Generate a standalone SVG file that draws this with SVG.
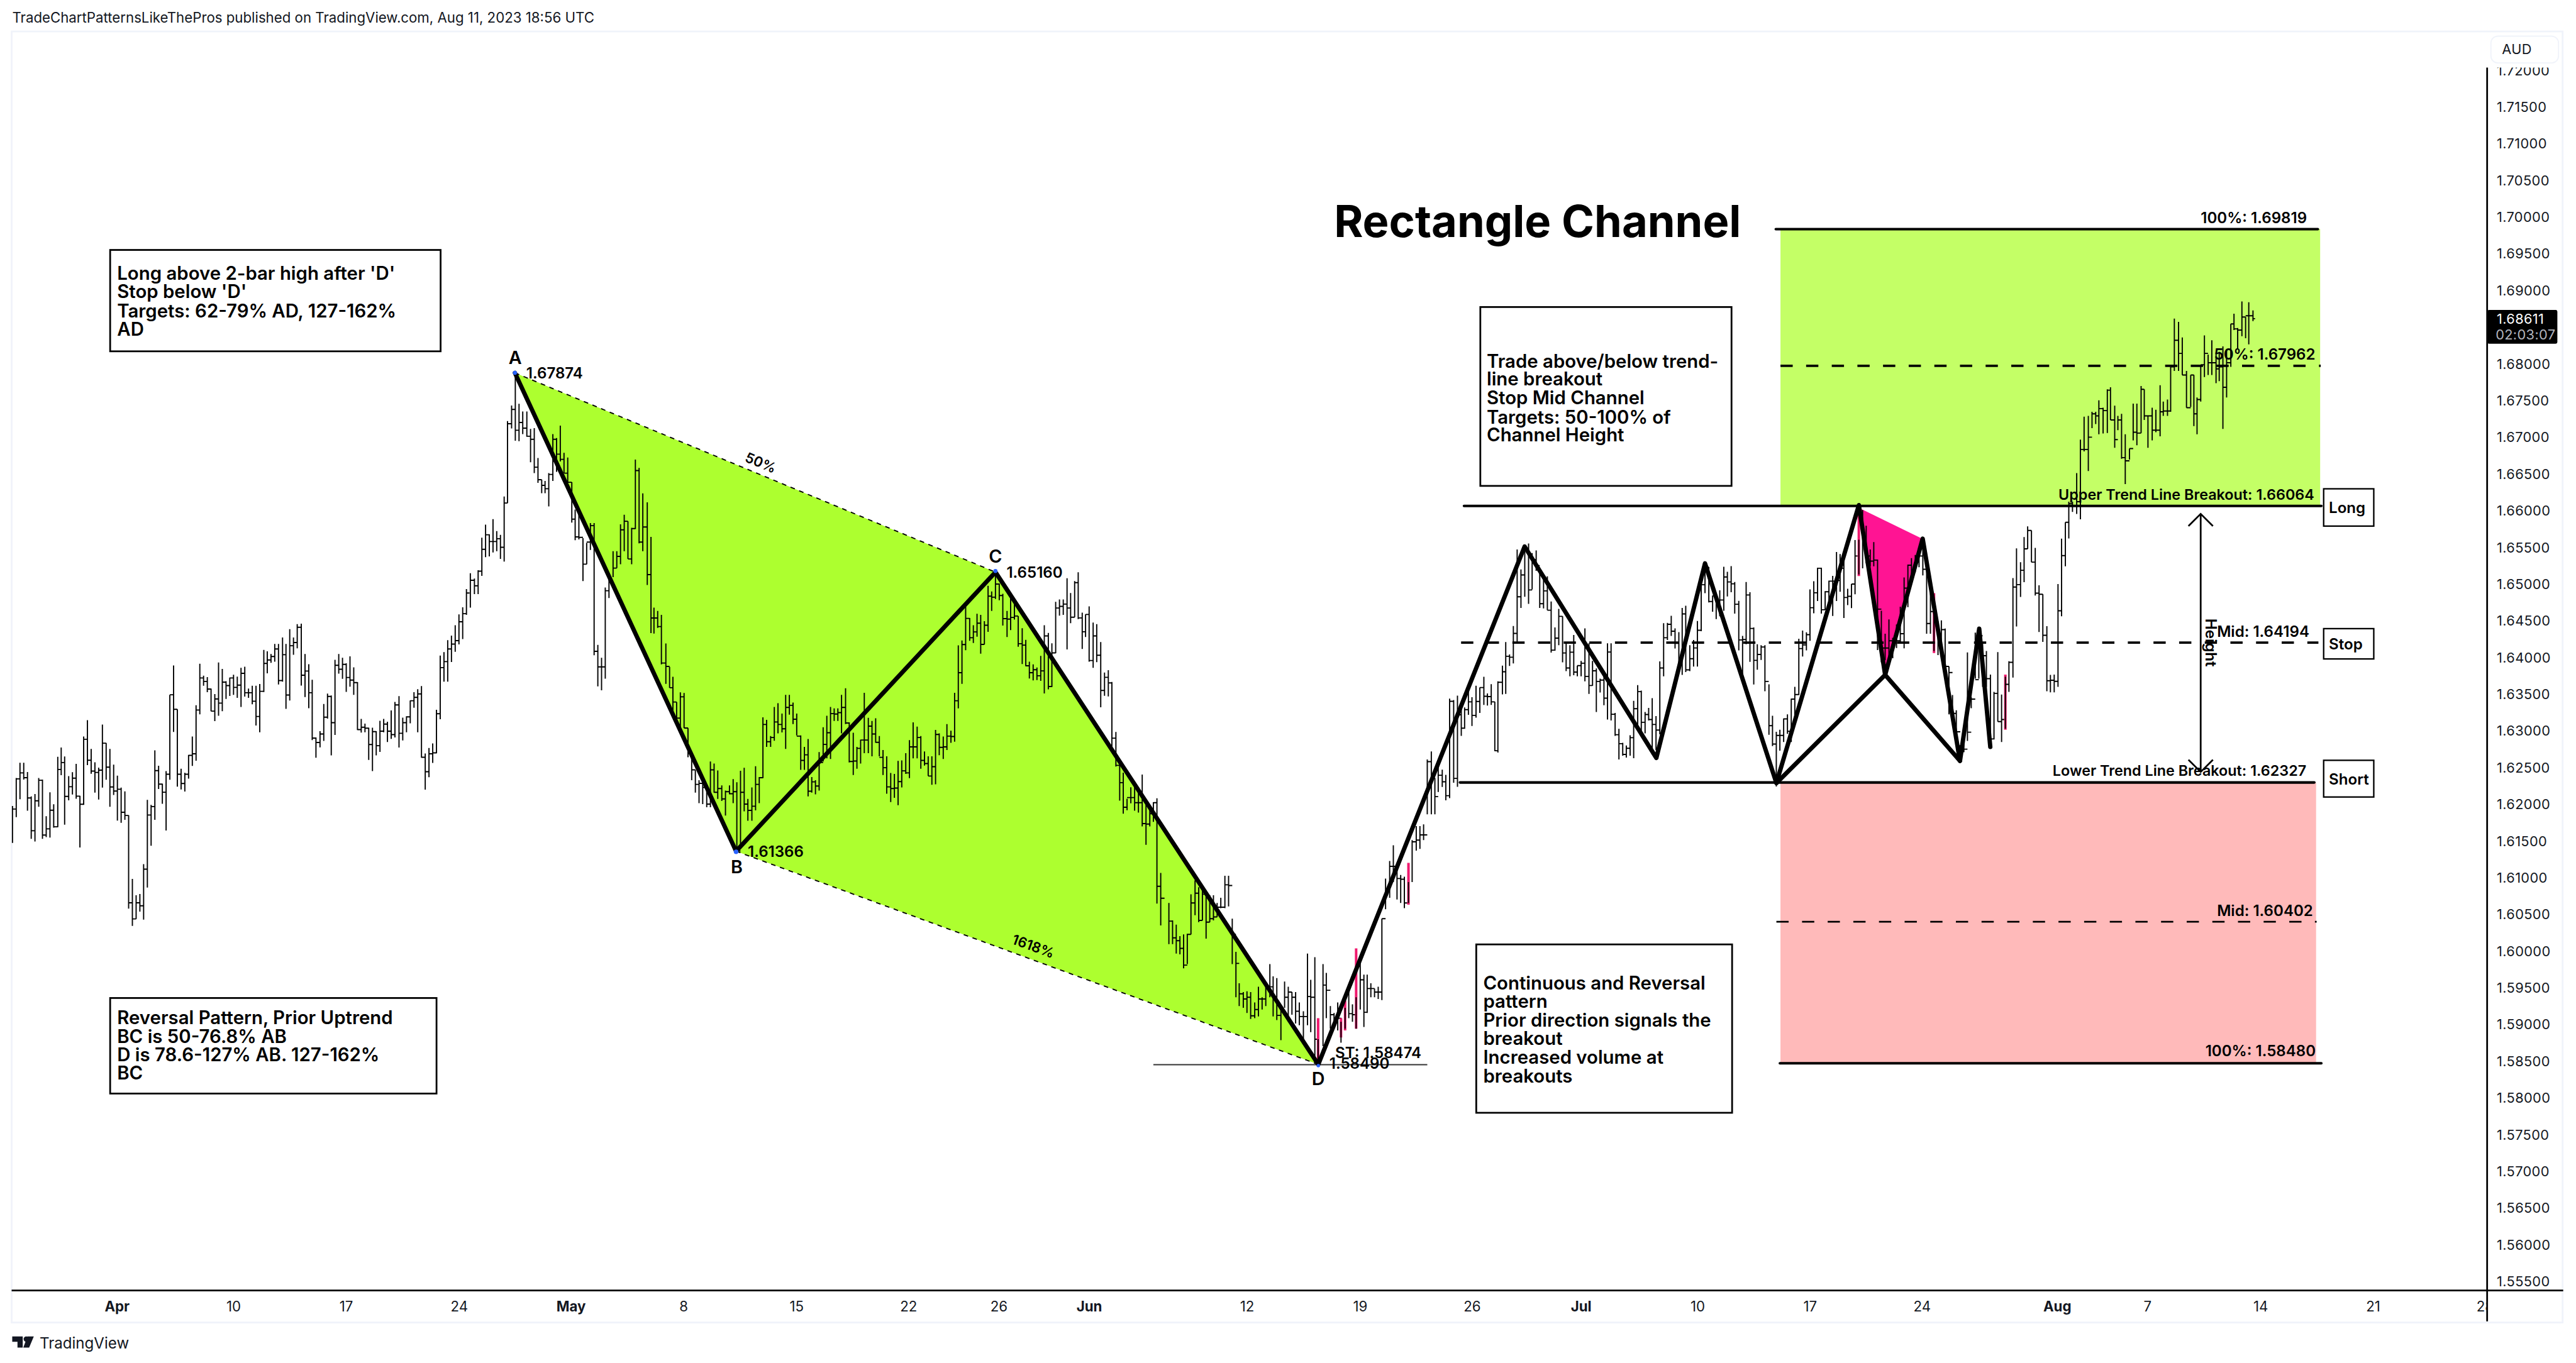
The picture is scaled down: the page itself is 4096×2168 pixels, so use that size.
<svg xmlns="http://www.w3.org/2000/svg" width="4096" height="2168" viewBox="0 0 4096 2168">
<style>
text{font-family:"Inter","Liberation Sans",sans-serif;fill:#000}
.hdr{font-size:24px;fill:#131722}
.px{font-size:23.5px;fill:#131722;letter-spacing:.4px}
.tm{font-size:24px;fill:#131722;text-anchor:middle}
.tb{font-weight:700}
.note{font-size:31.7px;font-weight:600}
.lbl{font-size:26px;font-weight:600}
.tr{font-size:25.2px}
.pt{font-size:31px;font-weight:600;text-anchor:middle}
.bar{fill:none;stroke:#000;stroke-width:1.9;vector-effect:non-scaling-stroke}
.pnk{fill:none;stroke:#f0196e;stroke-width:4;vector-effect:non-scaling-stroke}
.thick{fill:none;stroke:#000;stroke-width:7.5;stroke-linejoin:round;stroke-linecap:round}
.lvl{fill:none;stroke:#000;stroke-width:4.5;stroke-linecap:round}
.dash{fill:none;stroke:#000;stroke-width:4;stroke-dasharray:21 23}
.thin{fill:none;stroke:#000;stroke-width:2;stroke-dasharray:8 8}
.box{fill:#fff;stroke:#000;stroke-width:3}
</style>
<defs>
<clipPath id="pxclip"><rect x="4270" y="116" width="125" height="2098"/></clipPath>
<clipPath id="tmclip"><rect x="20" y="2217" width="4248" height="52"/></clipPath>
</defs>
<rect width="4096" height="2168" fill="#fff"/>
<g transform="scale(0.92670)">
<g id="frame">
<rect x="20" y="54" width="4377" height="2216" fill="none" stroke="#f0f3fa" stroke-width="3"/>
<text class="hdr" x="21" y="39">TradeChartPatternsLikeThePros published on TradingView.com, Aug 11, 2023 18:56 UTC</text>
<path d="M4267.5 116V2268M20 2215H4398" fill="none" stroke="#000" stroke-width="3"/>
<rect x="4274" y="62" width="116" height="46" rx="12" fill="#fff" stroke="#f0f3fa" stroke-width="2"/>
<text class="px" x="4293" y="93">AUD</text>
</g>
<g id="price-axis" clip-path="url(#pxclip)">
<text class="px" x="4284" y="129">1.72000</text><text class="px" x="4284" y="192">1.71500</text><text class="px" x="4284" y="255">1.71000</text><text class="px" x="4284" y="318">1.70500</text><text class="px" x="4284" y="381">1.70000</text><text class="px" x="4284" y="444">1.69500</text><text class="px" x="4284" y="507">1.69000</text><text class="px" x="4284" y="633">1.68000</text><text class="px" x="4284" y="696">1.67500</text><text class="px" x="4284" y="759">1.67000</text><text class="px" x="4284" y="822">1.66500</text><text class="px" x="4284" y="885">1.66000</text><text class="px" x="4284" y="948">1.65500</text><text class="px" x="4284" y="1011">1.65000</text><text class="px" x="4284" y="1074">1.64500</text><text class="px" x="4284" y="1137">1.64000</text><text class="px" x="4284" y="1200">1.63500</text><text class="px" x="4284" y="1263">1.63000</text><text class="px" x="4284" y="1326">1.62500</text><text class="px" x="4284" y="1389">1.62000</text><text class="px" x="4284" y="1452">1.61500</text><text class="px" x="4284" y="1515">1.61000</text><text class="px" x="4284" y="1578">1.60500</text><text class="px" x="4284" y="1641">1.60000</text><text class="px" x="4284" y="1704">1.59500</text><text class="px" x="4284" y="1767">1.59000</text><text class="px" x="4284" y="1830">1.58500</text><text class="px" x="4284" y="1893">1.58000</text><text class="px" x="4284" y="1956">1.57500</text><text class="px" x="4284" y="2019">1.57000</text><text class="px" x="4284" y="2082">1.56500</text><text class="px" x="4284" y="2145">1.56000</text><text class="px" x="4284" y="2208">1.55500</text>
</g>
<g id="last-price">
<rect x="4268" y="532" width="120" height="58" rx="3" fill="#000"/>
<text class="px" x="4284" y="556" style="fill:#fff">1.68611</text>
<text class="px" x="4282" y="583" style="fill:#b2b5be">02:03:07</text>
</g>
<g id="time-axis" clip-path="url(#tmclip)">
<text class="tm tb" x="201" y="2251">Apr</text><text class="tm" x="401" y="2251">10</text><text class="tm" x="594" y="2251">17</text><text class="tm" x="788" y="2251">24</text><text class="tm tb" x="980" y="2251">May</text><text class="tm" x="1173" y="2251">8</text><text class="tm" x="1367" y="2251">15</text><text class="tm" x="1559" y="2251">22</text><text class="tm" x="1714" y="2251">26</text><text class="tm tb" x="1869" y="2251">Jun</text><text class="tm" x="2140" y="2251">12</text><text class="tm" x="2334" y="2251">19</text><text class="tm" x="2526" y="2251">26</text><text class="tm tb" x="2713" y="2251">Jul</text><text class="tm" x="2913" y="2251">10</text><text class="tm" x="3106" y="2251">17</text><text class="tm" x="3298" y="2251">24</text><text class="tm tb" x="3530" y="2251">Aug</text><text class="tm" x="3685" y="2251">7</text><text class="tm" x="3879" y="2251">14</text><text class="tm" x="4072" y="2251">21</text><text class="tm" x="4264" y="2251">28</text>
</g>
<g id="brand">
<path d="M21 2294h18v19h-9v-10h-9zM47 2294h11l-8 19h-10z" fill="#131722"/><circle cx="45" cy="2298.5" r="4.5" fill="#131722"/>
<text x="68" y="2315" style="font-size:26px;fill:#131722">TradingView</text>
</g>
<g id="zones">
<polygon points="883.5,640 1708,982 2262,1827 1263,1461" fill="#adff2f"/>
<rect x="3055" y="393" width="926" height="475.5" fill="#c4ff66"/>
<rect x="3055" y="1343" width="919" height="482" fill="#ffbaba"/>
<polygon points="3190,872 3299,925 3234.6,1158.5" fill="#ff1493"/>
</g>
<g id="price-bars">
<g transform="matrix(.5357 0 0 .3954 0 1000)"><path class="bar" d="M40 970V1130M40 983h12M52 848V1018M52 852h12M64 782V940M64 826h12M76 782V855M76 847h12M88 822V990M88 935h12M100 928V1112M100 1077h12M112 918V1124M112 947h12M124 848V973M124 858h12M136 855V1112M136 1096h12M148 1014V1105M148 1069h12M160 910V1107M160 988h12M172 962V1064M172 1060h13M185 756V1062M185 811h11M196 716V836M196 781h11M207 755V1051M207 928h13M220 840V945M220 886h12M232 823V920M232 849h12M244 787V938M244 927h12M256 925V1150M256 962h12M268 668V965M268 680h12M280 597V792M280 771h12M292 722V830M292 818h12M304 780V912M304 824h12M316 803V942M316 814h12M328 616V890M328 697h12M340 696V856M340 801h12M352 722V973M352 887h12M364 790V922M364 905h12M376 838V1033M376 897h12M388 890V1043M388 997h12M400 906V1030M400 1011h12M412 1010V1415M412 1390h12M424 1286V1490M424 1460h12M436 1357V1460M436 1390h12M448 1352V1428M448 1403h12M460 1222V1463M460 1244h12M472 943V1324M472 1009h12M484 965V1142M484 972h12M496 728V1030M496 816h12M508 795V896M508 875h12M520 873V960M520 910h12M532 818V1076M532 832h12M544 487V856M544 487h12M556 360V648M556 550h12M568 550V886M568 832h12M580 808V898M580 872h12M592 826V907M592 832h12M604 748V851M604 750h12M616 668V796M616 743h12M628 532V773M628 553h12M640 352V572M640 414h12M652 404V448M652 429h12M664 410V476M664 462h12M676 460V558M676 558h12M688 484V601M688 505h12M700 347V578M700 523h12M712 375V558M712 432h12M724 428V505M724 447h12M736 412V492M736 414h12M748 400V487M748 455h12M760 408V500M760 445h12M772 370V540M772 394h12M784 365V495M784 478h12M796 460V500M796 478h12M808 448V528M808 515h12M820 448V620M820 581h12M832 440V650M832 472h13M845 292V475M845 351h11M856 298V394M856 336h12M868 310V348M868 321h12M880 266V343M880 288h12M892 266V442M892 425h13M905 238V430M905 313h11M916 266V548M916 488h12M928 202V512M928 274h12M940 238V313M940 260h12M952 180V285M952 194h13M965 178V447M965 402h12M977 310V497M977 384h12M989 354V545M989 478h11M1000 422V684M1000 675h12M1012 672V760M1012 694h13M1025 645V715M1025 657h12M1037 527V687M1037 584h12M1049 482V590M1049 494h12M1061 490V750M1061 608h12M1073 335V661M1073 359h12M1085 310V395M1085 376h12M1097 326V418M1097 355h12M1109 350V474M1109 412h12M1121 320V452M1121 423h12M1133 368V487M1133 434h12M1145 432V640M1145 638h12M1157 592V651M1157 628h12M1169 612V650M1169 632h12M1181 630V770M1181 703h12M1193 630V818M1193 647h12M1205 645V750M1205 708h12M1217 600V735M1217 645h12M1229 592V650M1229 614h12M1241 604V692M1241 645h12M1253 555V678M1253 660h12M1265 518V672M1265 531h13M1278 493V716M1278 654h12M1290 586V685M1290 608h12M1302 580V650M1302 583h12M1314 512V611M1314 513h12M1326 476V543M1326 498h12M1338 463V650M1338 483h12M1350 449V760M1350 758h12M1362 742V899M1362 821h12M1374 718V845M1374 743h12M1386 698V783M1386 739h12M1398 552V741M1398 569h12M1410 317V593M1410 369h12M1422 302V430M1422 343h12M1434 250V430M1434 288h12M1446 230V345M1446 267h12M1458 185V300M1458 252h12M1470 138V268M1470 170h12M1482 107V245M1482 135h12M1494 28V140M1494 45h10"/></g>
<g transform="matrix(.6378 0 0 .4464 800 580)"><path class="bar" d="M11 905V1037M11 932h11M22 925V985M22 953h10M32 893V985M32 897h10M42 768V915M42 813h10M52 718V843M52 757h10M62 755V840M62 783h10M72 697V825M72 783h10M82 743V820M82 772h10M92 757V850M92 805h10M102 610V860M102 635h9M111 320V635M111 330h11M122 260V348M122 275h10M132 135V395M132 355h10M142 253V397M142 325h10M152 283V370M152 347h11M163 283V380M163 378h10M173 350V478M173 390h10M183 347V520M183 497h10M193 462V557M193 545h10M203 545V597M203 567h9M212 550V597M212 580h10M222 520V648M222 525h11M233 370V550M233 390h10M243 385V515M243 447h10M253 337V475M253 467h10M263 442V520M263 520h10M273 460V556M273 555h11M284 555V710M284 697h9M293 660V778M293 765h10M303 670V775M303 767h11M314 770V935M314 870h10M324 788V870M324 785h10M334 712V815M334 722h10M344 712V1220M344 1205h10M354 1180V1340M354 1265h10M364 1230V1355M364 1265h10M374 960V1310M374 972h10M384 920V1000M384 935h11M395 820V920M395 885h10M405 820V885M405 840h10M415 717V870M415 738h10M425 680V820M425 705h10M435 705V850M435 850h10M445 730V870M445 733h10M455 468V735M455 510h10M465 500V790M465 785h10M475 598V820M475 727h12M487 632V950M487 910h10M497 765V1135M497 1077h8M505 1037V1137M505 1077h10M515 1050V1115M515 1110h10M525 1065V1255M525 1250h12M537 1175V1330M537 1263h10M547 1265V1345M547 1345h9M556 1303V1440M556 1400h10M566 1400V1470M566 1462h10M576 1363V1520M576 1380h10M586 1365V1500M586 1500h11"/></g>
<g transform="matrix(.574 0 0 .357 1200 1000)"><path class="bar" d="M-34 700V840M-34 810h11M-23 820V950M-23 900h11M-12 900V1010M-12 970h11M-1 950V1060M-1 965h11M10 950V1065M10 985h12M22 985V1080M22 1065h11M33 860V1080M33 900h11M44 870V1010M44 1008h11M55 903V1040M55 990h12M67 975V1050M67 1040h11M78 1000V1120M78 1005h12M90 975V1018M90 1015h11M101 945V1060M101 1005h11M112 960V1290M112 1290h11M123 905V1280M123 1008h11M134 890V1100M134 1065h11M145 1040V1145M145 1095h12M157 985V1145M157 1075h11M168 883V1095M168 970h11M179 935V1060M179 938h11M190 648V940M190 682h11M201 660V790M201 765h12M213 738V790M213 745h11M224 598V760M224 670h11M235 580V725M235 682h12M247 630V720M247 703h11M258 540V800M258 600h11M269 540V635M269 590h11M280 577V680M280 657h11M291 630V735M291 738h12M303 735V900M303 855h11M314 790V900M314 828h11M325 752V1028M325 1003h11M336 935V1010M336 958h11M347 950V1018M347 978h11M358 815V1000M358 865h12M370 695V860M370 778h11M381 640V845M381 722h11M392 598V848M392 630h11M403 605V665M403 632h11M414 605V665M414 625h11M425 540V725M425 600h12M437 508V680M437 675h11M448 672V865M448 860h12M460 722V925M460 858h11M471 790V895M471 797h11M482 755V870M482 757h11M493 530V820M493 757h12M505 650V820M505 690h11M516 665V835M516 728h11M527 652V770M527 768h11M538 738V835M538 840h11M549 805V925M549 890h11M560 835V1015M560 982h12M572 915V1055M572 990h11M583 920V1035M583 988h11M594 857V1070M594 957h11M605 855V985M605 905h12M617 820V920M617 915h11M628 757V940M628 790h11M639 672V845M639 790h12M651 692V845M651 745h11M662 738V895M662 855h11M673 812V880M673 870h11M684 835V930M684 930h11M695 835V972M695 885h11M706 708V970M706 730h11M717 725V830M717 792h12M729 740V848M729 790h11M740 680V805M740 738h12M752 712V770M752 740h11M763 530V765M763 568h11M774 302V605M774 433h11M785 278V487M785 298h11M796 115V325M796 172h12M808 170V280M808 265h11M819 205V290M819 237h11M830 150V260M830 195h11M841 155V342M841 297h11M852 185V297M852 205h11M863 15V237M863 65h11"/></g>
<g transform="matrix(.3827 0 0 .3954 1700 940)"><path class="bar" d="M4 190V275M4 215h17M21 110V223M21 158h17M38 155V228M38 208h16M54 200V338M54 308h19M73 275V388M73 310h16M89 215V358M89 303h17M106 240V312M106 297h17M123 297V430M123 417h18M141 350V505M141 423h16M157 400V515M157 513h16M173 495V568M173 543h17M190 507V576M190 530h17M207 520V575M207 556h17M224 470V578M224 535h16M240 337V633M240 383h18M258 370V615M258 603h16M274 415V605M274 457h17M291 235V458M291 262h17M308 225V295M308 255h17M325 225V292M325 245h17M342 133V442M342 262h16M358 197V328M358 302h18M376 145V302M376 152h16M392 107V310M392 305h18M410 282V440M410 365h15M425 290V388M425 290h16M441 255V495M441 490h18M459 325V522M459 383h16M475 332V497M475 467h18M493 410V693M493 620h17M510 542V643M510 563h17M527 532V646M527 587h16M543 583V870M543 827h18M561 800V950M561 945h17M578 940V1098M578 1020h16M594 977V1155M594 1127h17M611 1090V1140M611 1085h17M628 1040V1110M628 1085h17M645 1035V1142M645 1107h17M662 1045V1150M662 1107h17M679 985V1210M679 1198h17M696 1100V1290M696 1200h17M713 1130V1210M713 1155h16M729 1105V1190M729 1107h16M745 1088V1545M745 1470h17M762 1412V1640M762 1522h17"/></g>
<g transform="matrix(.7015 0 0 .5995 2000 1400)"><path class="bar" d="M8 250V368M8 302h9M17 300V368M17 350h9M26 312V395M26 358h9M35 345V397M35 380h9M44 340V437M44 428h9M53 338V425M53 340h9M62 225V340M62 250h10M72 185V285M72 222h9M81 205V305M81 300h9M90 205V300M90 225h9M99 225V352M99 305h9M108 228V305M108 295h9M117 228V300M117 290h9M126 250V290M126 262h9M135 235V265M135 262h10M145 172V265M145 198h9M154 172V260M154 200h9M163 295V425M163 340h9M172 390V520M172 423h8M180 480V545M180 510h10M190 505V550M190 525h9M199 503V565M199 520h9M208 505V582M208 573h10M218 535V580M218 555h9M227 490V575M227 525h9M236 520V555M236 525h9M245 490V545M245 492h10M255 425V520M255 490h8M263 460V575M263 520h9M272 465V585M272 572h10M282 555V643M282 560h9M291 475V550M291 520h9M300 490V590M300 505h9M309 505V570M309 520h9M318 505V595M318 560h9M327 535V600M327 575h10M337 560V640M337 575h10M347 395V600M347 518h8M355 470V620M355 520h10M365 405V710M365 640h8M385 425V660M385 485h8M393 450V580M393 500h10M403 545V610M403 570h9M412 565V600M412 590h9M421 535V615M421 580h9M448 500V580M448 567h9M457 540V590M457 570h9M476 420V555M476 470h9M485 455V605M485 563h8M493 455V565M493 495h9M502 480V520M502 495h9M511 495V520M511 505h9M520 490V525M520 505h9M529 295V528M529 295h9M538 180V268M538 210h10M548 130V235M548 145h9M557 85V190M557 145h9M566 135V240M566 180h9M575 170V250M575 182h9M584 175V265M584 250h10M603 70V190M603 75h10M613 30V100M613 70h9M622 30V95M622 55h9M631 25V70M631 55h9"/><path class="pnk" d="M373 580V700M429 580V635M439 530V615M466 380V610M594 135V255"/><path class="bar" d="M373 640V712M429 590V650M439 550V610M466 520V610M594 190V250"/></g>
<g transform="matrix(.408 0 0 .319 2400 900)"><path class="bar" d="M120 1265V1560M120 1277h17M137 1222V1560M137 1365h15M152 1365V1560M152 1465h14M166 1280V1440M166 1350h17M183 1320V1413M183 1385h15M198 1348V1485M198 1460h16M214 938V1473M214 952h17M231 945V1390M231 1367h16M247 922V1412M247 1025h16M263 955V1138M263 1097h14M277 985V1100M277 997h16M293 885V1025M293 955h15M308 930V1085M308 1028h17M325 868V1040M325 953h16M341 878V1015M341 878h17M358 820V972M358 925h15M373 910V975M373 927h16M389 860V972M389 955h15M404 955V1220M404 1218h13M417 845V1228M417 850h19M436 760V915M436 793h14M450 633V912M450 710h16M466 700V762M466 715h16M482 547V748M482 587h16M498 135V632M498 390h16M514 243V450M514 272h16M530 125V390M530 130h16M546 103V428M546 353h15M561 155V350M561 190h17M578 140V250M578 222h15M593 250V450M593 427h16M609 282V452M609 358h16M625 280V462M625 462h16M641 415V690M641 677h16M657 555V680M657 612h16M673 455V650M673 495h16M689 495V742M689 692h15M704 642V790M704 773h16M720 650V818M720 688h16M736 595V812M736 795h15M751 760V818M751 760h16M767 735V818M767 747h16M783 560V845M783 818h17M800 640V912M800 867h15M815 735V868M815 788h16M831 775V1010M831 845h16M847 830V905M847 838h16M863 812V973M863 935h15M878 640V1050M878 687h15M893 640V1055M893 1022h17M910 1015V1138M910 1132h16M926 1100V1265M926 1180h16M942 1175V1245M942 1238h15M957 1190V1255M957 1205h16M973 1135V1245M973 1148h15M988 950V1258M988 992h17M1005 865V1108M1005 900h15M1020 895V1110M1020 1065h16M1036 1010V1125M1036 1023h15M1051 988V1055M1051 1050h15M1066 935V1240M1066 1077h16M1082 1032V1215M1082 1107h16M1098 737V1130M1098 773h16M1114 532V818M1114 610h16M1130 530V622M1130 538h16M1146 492V600M1146 575h16M1162 560V668M1162 640h16M1178 580V760M1178 745h14M1192 450V810M1192 482h15M1207 438V795M1207 783h17M1224 650V790M1224 723h16M1240 622V765M1240 665h16M1256 520V765M1256 570h16M1272 325V575M1272 325h16M1288 225V370M1288 230h16M1304 230V420M1304 415h16M1320 383V470M1320 385h15M1335 385V510M1335 408h15M1350 355V495M1350 407h17M1367 228V465M1367 283h15M1382 255V388M1382 310h16M1398 225V365M1398 320h15M1413 310V480M1413 430h17M1430 412V678M1430 622h16M1446 600V830M1446 620h15M1461 310V645M1461 380h16M1477 365V740M1477 560h16M1493 555V862M1493 732h15M1508 645V782M1508 700h16M1524 650V730M1524 660h16M1540 650V898M1540 845h16"/></g>
<g transform="matrix(.3827 0 0 .3508 3000 800)"><path class="bar" d="M92 1068V1315M92 1270h16M108 1222V1370M108 1360h17M125 1300V1568M125 1318h16M141 1290V1392M141 1318h17M158 1235V1350M158 1237h17M175 1215V1310M175 1298h17M192 1138V1350M192 1140h16M208 1080V1255M208 1118h18M226 845V1120M226 893h17M243 805V932M243 875h17M260 813V902M260 825h16M276 603V855M276 693h17M293 563V720M293 620h17M310 497V660M310 500h17M327 497V722M327 703h17M344 612V703M344 615h17M361 560V700M361 563h17M378 537V733M378 563h17M395 420V660M395 560h16M411 430V615M411 500h17M428 450V743M428 643h17M445 600V680M445 637h17M462 577V695M462 577h16M478 362V627M478 440h17M512 215V500M512 380h16M528 292V475M528 440h18M546 408V490M546 465h16M562 372V490M562 460h17M579 457V900M579 700h17M596 708V960M596 890h17M613 820V950M613 890h17M630 750V950M630 855h17M647 840V940M647 855h17M664 775V890M664 855h17M681 688V860M681 820h17M698 545V892M698 597h17M715 482V690M715 485h16M731 450V570M731 520h17M748 435V520M748 470h17M765 410V495M765 440h17M782 405V535M782 505h17M799 505V820M799 770h17M816 622V820M816 712h16M850 760V925M850 878h15M865 755V885M865 800h17M882 795V1015M882 980h17M899 980V1215M899 1010h16M915 1120V1212M915 1210h17M932 1195V1320M932 1300h18M950 1365V1400M950 1385h16M966 1360V1400M966 1385h16M982 912V1345M982 1302h17M999 1130V1185M999 1140h18M1017 815V1040M1017 1045h16M1033 820V1040M1033 830h17M1050 870V1080M1050 928h17M1067 905V1080M1067 1040h18M1085 1020V1370M1085 1335h16M1101 1105V1338M1101 1112h17M1118 910V1250M1118 1250h17M1135 1118V1350M1135 1240h17M1168 955V1105M1168 960h18M1186 548V1035M1186 592h16M1202 403V785M1202 580h18M1220 470V640M1220 510h16M1236 347V568M1236 405h16M1252 295V405M1252 315h17M1269 315V470M1269 470h17M1286 400V633M1286 622h17M1303 583V812M1303 627h17M1320 627V860M1320 828h18M1338 783V1102M1338 1050h16M1354 1022V1107M1354 1048h17M1371 1020V1107M1371 1053h17M1388 577V1080M1388 708h16M1404 355V735M1404 438h17M1421 275V490M1421 275h17"/><path class="pnk" d="M495 190V538M832 622V915M1152 1020V1290"/><path class="bar" d="M495 360V530M832 700V905M1152 1030V1285M1152 1068h16"/></g>
<g transform="matrix(.9056 0 0 .7015 3000 300)"><path class="bar" d="M607 800V890M607 805h7M614 800V825M614 810h8M622 730V830M622 800h7M629 648V843M629 672h7M636 592V677M636 672h8M644 590V725M644 642h7M651 580V620M651 585h7M658 580V610M658 590h6M664 552V635M664 572h8M672 570V633M672 577h8M680 525V632M680 527h6M686 520V600M686 600h8M694 565V668M694 648h6M700 590V625M700 600h7M707 585V695M707 692h7M714 635V757M714 700h8M722 670V697M722 670h7M729 560V650M729 630h7M736 560V662M736 632h8M744 517V632M744 525h6M750 525V600M750 590h7M757 590V668M757 590h8M765 570V650M765 625h7M772 575V630M772 625h8M780 515V640M780 580h6M786 555V590M786 578h8M794 550V590M794 578h6M800 470V580M800 470h7M807 352V480M807 405h8M815 360V480M815 437h7M822 398V490M822 490h8M830 480V570M830 570h8M838 490V568M838 490h6M844 490V615M844 585h6M850 545V635M850 550h7M857 465V555M857 465h7M864 393V495M864 437h7M871 440V490M871 460h7M878 405V490M878 460h8M886 435V510M886 475h6M892 433V505M892 470h7M899 420V622M899 520h7M906 430V545M906 460h8M914 365V470M914 365h6M920 340V380M920 377h7M927 375V425M927 380h8M935 310V395M935 348h7M942 348V400M942 345h6M948 312V415M948 345h8M956 332V358M956 352h4"/></g>
</g>
<g id="connectors">
<path class="thin" d="M883.5 640L1708 982M1263 1461L2262 1827"/>
<path fill="none" stroke="#333" stroke-width="2" d="M1979 1827.5H2449"/>
<path class="lvl" d="M3047 393.3H3977M2512 868.4H3983M2505 1343H3971M3054 1825H3983"/>
<path class="dash" d="M2507 1103H3978"/>
<path class="dash" d="M3055 628H3982"/>
<path class="dash" style="stroke-width:3" d="M3048 1582H3975"/>
<path class="thick" d="M883.5 640L1263 1461L1708 982L2262 1827L2616 938L2842 1301L2925.5 967L3048 1344L3189.5 867L3234.6 1158.5L3299 924.5L3363 1306L3396 1079L3415 1282"/>
<path class="thick" d="M3048 1344L3234.6 1158.5L3363 1306"/>
<path fill="none" stroke="#000" stroke-width="3" d="M3776 882V1325M3755 903L3776 882L3797 903M3755 1304L3776 1325L3797 1304"/>
<g fill="#2962ff"><circle cx="883.5" cy="640" r="3.5"/><circle cx="1708" cy="980" r="3.5"/><circle cx="1263" cy="1462" r="4"/><circle cx="2262" cy="1829" r="3"/></g>
</g>
<g id="point-labels">
<text class="pt" x="884" y="625">A</text><text class="pt" x="1708" y="966">C</text><text class="pt" x="1264" y="1499">B</text><text class="pt" x="2262" y="1863">D</text>
<text class="lbl" x="903" y="650">1.67874</text><text class="lbl" x="1727" y="992">1.65160</text><text class="lbl" x="1283" y="1471">1.61366</text><text class="lbl" x="2291" y="1816">ST: 1.58474</text><text class="lbl" x="2281" y="1835">1.58490</text>
<text class="lbl" style="font-size:24px" text-anchor="middle" transform="translate(1302 802) rotate(22.5)">50%</text>
<text class="lbl" style="font-size:24px" text-anchor="middle" transform="translate(1770 1632) rotate(20.1)">1618%</text>
</g>
<g id="level-labels">
<text class="lbl" x="3776" y="383">100%: 1.69819</text><text class="lbl" x="3799" y="617">50%: 1.67962</text><text class="lbl tr" x="3532" y="858">Upper Trend Line Breakout: 1.66064</text><text class="lbl" x="3804" y="1093">Mid: 1.64194</text><text class="lbl tr" x="3522" y="1332">Lower Trend Line Breakout: 1.62327</text><text class="lbl" x="3804" y="1572">Mid: 1.60402</text><text class="lbl" x="3784" y="1813">100%: 1.58480</text>
<text class="lbl" text-anchor="middle" transform="translate(3784 1103) rotate(90)">Height</text>
</g>
<g id="title"><text x="2289" y="407" style="font-size:76px;font-weight:700">Rectangle Channel</text></g>
<g id="note-entry"><rect class="box" x="189" y="429" width="567" height="174"/><text class="note" x="201" y="480">Long above 2-bar high after 'D'</text><text class="note" x="201" y="512">Stop below 'D'</text><text class="note" x="201" y="545">Targets: 62-79% AD, 127-162%</text><text class="note" x="201" y="576">AD</text></g>
<g id="note-reversal"><rect class="box" x="189" y="1713" width="560" height="164"/><text class="note" x="201" y="1758">Reversal Pattern, Prior Uptrend</text><text class="note" x="201" y="1790">BC is 50-76.8% AB</text><text class="note" x="201" y="1821">D is 78.6-127% AB. 127-162%</text><text class="note" x="201" y="1853">BC</text></g>
<g id="note-continuous"><rect class="box" x="2533" y="1621" width="439" height="289"/><text class="note" x="2545" y="1698">Continuous and Reversal</text><text class="note" x="2545" y="1730">pattern</text><text class="note" x="2545" y="1762">Prior direction signals the</text><text class="note" x="2545" y="1794">breakout</text><text class="note" x="2545" y="1826">Increased volume at</text><text class="note" x="2545" y="1858">breakouts</text></g>
<g id="note-trade"><rect class="box" x="2540" y="527" width="431" height="307"/><text class="note" x="2551" y="631">Trade above/below trend-</text><text class="note" x="2551" y="662">line breakout</text><text class="note" x="2551" y="694">Stop Mid Channel</text><text class="note" x="2551" y="727">Targets: 50-100% of</text><text class="note" x="2551" y="758">Channel Height</text></g>
<g id="tag-long"><rect class="box" style="stroke-width:2.5" x="3987" y="839" width="86" height="64"/><text class="lbl" x="3996" y="881">Long</text></g>
<g id="tag-stop"><rect class="box" style="stroke-width:2.5" x="3987" y="1079" width="86" height="52"/><text class="lbl" x="3996" y="1115">Stop</text></g>
<g id="tag-short"><rect class="box" style="stroke-width:2.5" x="3987" y="1305" width="86" height="63"/><text class="lbl" x="3996" y="1347">Short</text></g>
</g>
</svg>
